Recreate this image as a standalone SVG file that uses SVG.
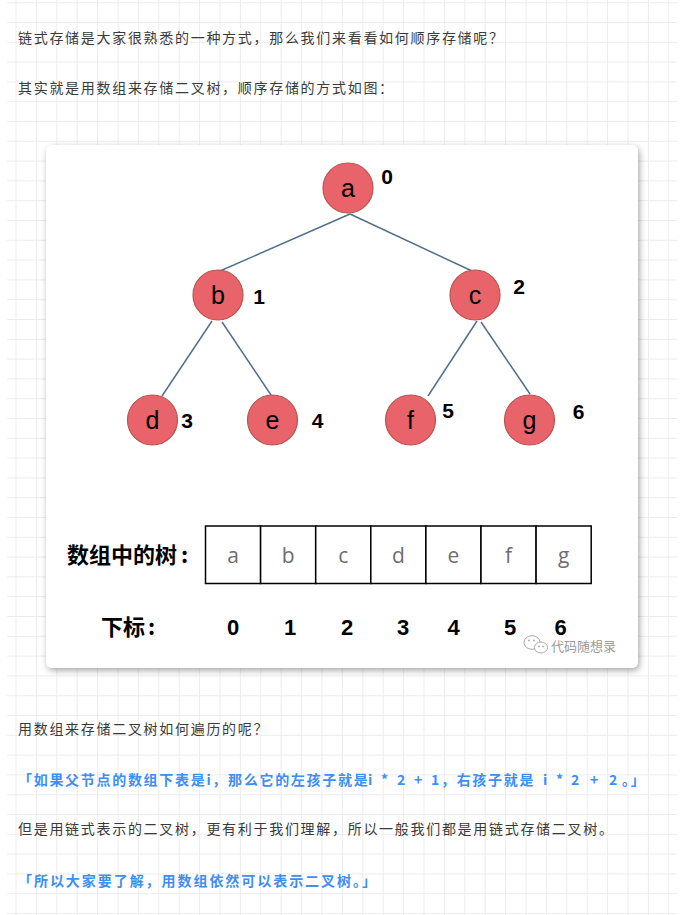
<svg xmlns="http://www.w3.org/2000/svg" width="691" height="915" viewBox="0 0 691 915">
  <defs>
    <pattern id="grid" patternUnits="userSpaceOnUse" x="15.5" y="2.2" width="20.4" height="19.8">
      <path d="M0.5 0V19.8M0 0.5H20.4" fill="none" stroke="#ececec" stroke-width="1"/>
    </pattern>
    <filter id="shadow" x="-5%" y="-5%" width="112%" height="112%">
      <feDropShadow dx="1.5" dy="2.5" stdDeviation="3" flood-color="#000" flood-opacity="0.35"/>
    </filter>
    <style>
      .body { font-family: "Noto Sans CJK SC", "Liberation Sans", sans-serif; font-size: 14px; letter-spacing: 1.7px; fill: #3a3a3a; }
      .blue { font-family: "Noto Sans CJK SC", "Liberation Sans", sans-serif; font-size: 14px; letter-spacing: 1.7px; fill: #3d8ef5; font-weight: bold; }
      .node circle { fill: #e8636a; stroke: #b85450; stroke-width: 1.2; }
      .node .lt { font-family: "Liberation Sans", Arial, sans-serif; font-size: 25px; fill: #000; text-anchor: middle; }
      .idx { font-family: "Liberation Sans", Arial, sans-serif; font-size: 21px; font-weight: bold; fill: #000; text-anchor: middle; }
      .edge { stroke: #52708c; stroke-width: 1.5; fill: none; }
      .cell { fill: #fff; stroke: #000; stroke-width: 1.5; }
      .cl { font-family: "Open Sans", "Liberation Sans", sans-serif; font-size: 21px; fill: #6e6e6e; text-anchor: middle; }
      .lbl { font-family: "Noto Sans CJK SC", sans-serif; font-size: 22px; font-weight: bold; fill: #000; }
      .num { font-family: "Liberation Sans", Arial, sans-serif; font-size: 22px; font-weight: bold; fill: #000; text-anchor: middle; }
      .wm { font-family: "Noto Sans CJK SC", sans-serif; font-size: 13px; fill: #9a9a9a; }
    </style>
  </defs>

  <rect width="691" height="915" fill="#fff"/>
  <rect x="7" y="0" width="670" height="915" fill="url(#grid)"/>

  <text class="body" x="18" y="43">链式存储是大家很熟悉的一种方式，那么我们来看看如何顺序存储呢？</text>
  <text class="body" x="18" y="93">其实就是用数组来存储二叉树，顺序存储的方式如图：</text>

  <rect x="46" y="145" width="592" height="523" rx="6" fill="#fff" filter="url(#shadow)"/>

  <g id="connectors">
    <line class="edge" x1="350" y1="214" x2="220" y2="271"/>
    <line class="edge" x1="350" y1="214" x2="472" y2="271"/>
    <line class="edge" x1="212" y1="321" x2="162" y2="396"/>
    <line class="edge" x1="222" y1="322" x2="271" y2="395"/>
    <line class="edge" x1="477" y1="321" x2="428" y2="396"/>
    <line class="edge" x1="481" y1="322" x2="530" y2="394"/>
  </g>

  <g id="node-a" class="node">
    <circle cx="348" cy="188" r="25"/>
    <text class="lt" x="348" y="196.5">a</text>
    <text class="idx" x="387" y="184">0</text>
  </g>
  <g id="node-b" class="node">
    <circle cx="218" cy="295" r="25"/>
    <text class="lt" x="218" y="303.5">b</text>
    <text class="idx" x="259" y="304">1</text>
  </g>
  <g id="node-c" class="node">
    <circle cx="475" cy="295" r="25"/>
    <text class="lt" x="475" y="303.5">c</text>
    <text class="idx" x="519" y="294">2</text>
  </g>
  <g id="node-d" class="node">
    <circle cx="152.5" cy="420" r="25"/>
    <text class="lt" x="152.5" y="428.5">d</text>
    <text class="idx" x="187" y="428">3</text>
  </g>
  <g id="node-e" class="node">
    <circle cx="272.5" cy="420" r="25"/>
    <text class="lt" x="272.5" y="428.5">e</text>
    <text class="idx" x="317.5" y="428">4</text>
  </g>
  <g id="node-f" class="node">
    <circle cx="410.5" cy="420" r="25"/>
    <text class="lt" x="410.5" y="428.5">f</text>
    <text class="idx" x="448" y="418">5</text>
  </g>
  <g id="node-g" class="node">
    <circle cx="529.5" cy="420" r="25"/>
    <text class="lt" x="529.5" y="428.5">g</text>
    <text class="idx" x="578.5" y="419">6</text>
  </g>

  <g id="array">
    <text class="lbl" x="67" y="563">数组中的树<tspan dx="4">:</tspan></text>
    <rect class="cell" x="205.5" y="526" width="55.1" height="57.5"/>
    <rect class="cell" x="260.6" y="526" width="55.1" height="57.5"/>
    <rect class="cell" x="315.7" y="526" width="55.1" height="57.5"/>
    <rect class="cell" x="370.8" y="526" width="55.1" height="57.5"/>
    <rect class="cell" x="425.9" y="526" width="55.1" height="57.5"/>
    <rect class="cell" x="481" y="526" width="55.1" height="57.5"/>
    <rect class="cell" x="536.1" y="526" width="55.1" height="57.5"/>
    <text class="cl" x="233" y="563">a</text>
    <text class="cl" x="288.2" y="563">b</text>
    <text class="cl" x="343.3" y="563">c</text>
    <text class="cl" x="398.4" y="563">d</text>
    <text class="cl" x="453.5" y="563">e</text>
    <text class="cl" x="508.6" y="563">f</text>
    <text class="cl" x="563.7" y="563">g</text>
  </g>

  <g id="index">
    <text class="lbl" x="101" y="634.5">下标<tspan dx="3">:</tspan></text>
    <text class="num" x="233" y="635">0</text>
    <text class="num" x="290" y="635">1</text>
    <text class="num" x="347" y="635">2</text>
    <text class="num" x="403" y="635">3</text>
    <text class="num" x="453.5" y="635">4</text>
    <text class="num" x="510" y="635">5</text>
    <text class="num" x="560.5" y="635">6</text>
  </g>

  <g id="watermark">
    <ellipse cx="532" cy="642.5" rx="8" ry="6.8" fill="#fff" stroke="#aaa" stroke-width="1"/>
    <ellipse cx="541" cy="647.5" rx="6.5" ry="5.5" fill="#fff" stroke="#aaa" stroke-width="1"/>
    <circle cx="539" cy="646.5" r="0.9" fill="#aaa"/>
    <circle cx="543" cy="646.5" r="0.9" fill="#aaa"/>
    <circle cx="529" cy="640.5" r="0.9" fill="#aaa"/>
    <circle cx="534" cy="640.5" r="0.9" fill="#aaa"/>
    <text class="wm" x="551" y="651">代码随想录</text>
  </g>

  <text class="body" x="18" y="734">用数组来存储二叉树如何遍历的呢？</text>
  <text class="blue" x="18" y="785">「如果父节点的数组下表是i，那么它的左孩子就是<tspan x="368">i</tspan><tspan x="381">*</tspan><tspan x="397">2</tspan><tspan x="414">+</tspan><tspan x="431">1</tspan>，右孩子就是<tspan x="543">i</tspan><tspan x="556">*</tspan><tspan x="571">2</tspan><tspan x="590">+</tspan><tspan x="609">2</tspan><tspan x="622">。」</tspan></text>
  <text class="body" x="18" y="834">但是用链式表示的二叉树，更有利于我们理解，所以一般我们都是用链式存储二叉树。</text>
  <text class="blue" x="18" y="886" style="letter-spacing:1.95px">「所以大家要了解，用数组依然可以表示二叉树。」</text>
</svg>
